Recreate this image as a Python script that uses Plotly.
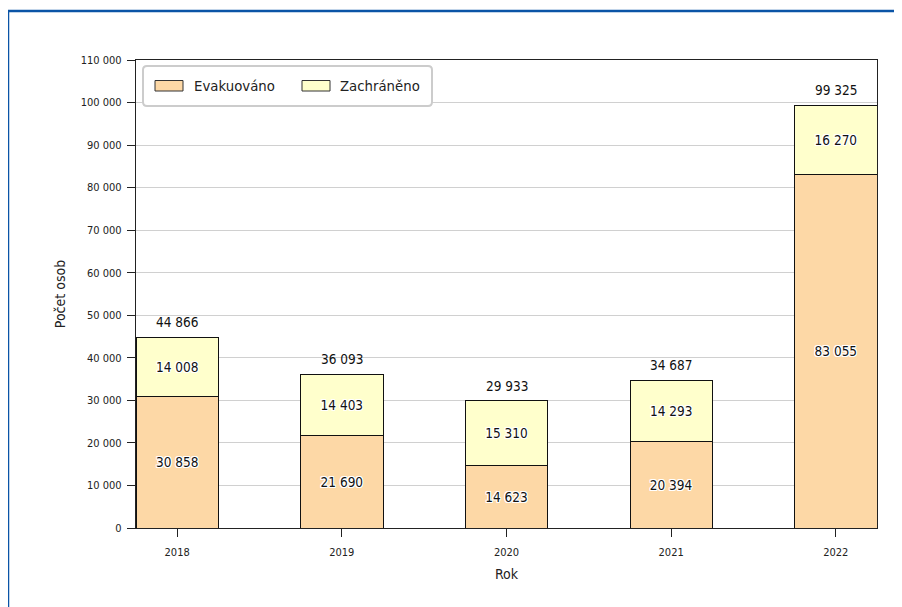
import plotly.graph_objects as go

years = ["2018", "2019", "2020", "2021", "2022"]
evakuovano = [30858, 21690, 14623, 20394, 83055]
zachraneno = [14008, 14403, 15310, 14293, 16270]
totals = [44866, 36093, 29933, 34687, 99325]
y_ticks = [0, 10000, 20000, 30000, 40000, 50000, 60000, 70000, 80000, 90000, 100000, 110000]
y_ticklabels = ["0", "10 000", "20 000", "30 000", "40 000", "50 000", "60 000",
                "70 000", "80 000", "90 000", "100 000", "110 000"]
series_names = ["Evakuováno", "Zachráněno"]
series_colors = ["#fdd8a6", "#ffffcc"]


def fmt(v):
    return f"{v:,}".replace(",", " ")


COND = "Liberation Sans Narrow, DejaVu Sans Condensed, Roboto, sans-serif"
halo = ("-1px -1px 0 #fff, 1px -1px 0 #fff, -1px 1px 0 #fff, 1px 1px 0 #fff, "
        "0 1px 0 #fff, 0 -1px 0 #fff, 1px 0 0 #fff, -1px 0 0 #fff")

# plot area in page pixels: x 136..877, y 60..528 ; page has 8px body offset
PX_L, PX_R, PX_T, PX_B = 136, 877, 60, 528
W_AX, H_AX = PX_R - PX_L, PX_B - PX_T


def px2paper(px, py):
    return (px - PX_L) / W_AX, (PX_B - py) / H_AX


fig = go.Figure()
for vals, name, col in [(evakuovano, series_names[0], series_colors[0]),
                        (zachraneno, series_names[1], series_colors[1])]:
    fig.add_trace(go.Bar(
        x=years, y=vals, name=name, width=0.5, showlegend=False,
        marker=dict(color=col, line=dict(color="#111111", width=1)),
        text=[fmt(v) for v in vals], textposition="inside",
        insidetextanchor="middle", textangle=0, constraintext="none",
        textfont=dict(family=COND, size=13.5, color="#111111", shadow=halo),
    ))

annotations = []
for i, tot in enumerate(totals):
    annotations.append(dict(
        x=i, y=tot, xref="x", yref="y", text=fmt(tot), showarrow=False,
        yanchor="bottom", yshift=5,
        font=dict(family=COND, size=13.5, color="#111111"),
    ))

# manual legend (matplotlib style)
shapes = []
bx0, by1 = px2paper(143, 66)
bx1, by0 = px2paper(432, 106)
rx, ry = 4 / W_AX, 4 / H_AX
path = (f"M {bx0+rx},{by1} L {bx1-rx},{by1} Q {bx1},{by1} {bx1},{by1-ry} "
        f"L {bx1},{by0+ry} Q {bx1},{by0} {bx1-rx},{by0} L {bx0+rx},{by0} "
        f"Q {bx0},{by0} {bx0},{by0+ry} L {bx0},{by1-ry} Q {bx0},{by1} {bx0+rx},{by1} Z")
shapes.append(dict(type="path", xref="paper", yref="paper", path=path,
                   fillcolor="white", line=dict(color="#cccccc", width=2), layer="above"))
swatch_x = [155, 302]
text_x = [192, 338]
for sx, tx, name, col in zip(swatch_x, text_x, series_names, series_colors):
    x0, y1 = px2paper(sx, 80.5)
    x1, y0 = px2paper(sx + 28, 91)
    shapes.append(dict(type="rect", xref="paper", yref="paper", x0=x0, x1=x1, y0=y0, y1=y1,
                       fillcolor=col, line=dict(color="#333333", width=1), layer="above"))
    ax, ay = px2paper(tx, 86)
    annotations.append(dict(x=ax, y=ay, xref="paper", yref="paper", text=name,
                            showarrow=False, xanchor="left", yanchor="middle",
                            font=dict(family="DejaVu Sans", size=13.3, color="#222222")))

# blue frame around the figure
shapes.append(dict(
    type="rect", xref="paper", yref="paper",
    x0=(8 - PX_L) / W_AX, x1=(912 - PX_L) / W_AX,
    y0=(PX_B - 620) / H_AX, y1=(PX_B - 11) / H_AX,
    line=dict(color="#0a54a6", width=2.5), fillcolor="rgba(0,0,0,0)", layer="above",
))

fig.update_layout(
    width=894, height=599,
    margin=dict(l=PX_L - 8, r=894 - (PX_R - 8), t=PX_T - 8, b=599 - (PX_B - 8)),
    barmode="stack",
    plot_bgcolor="white", paper_bgcolor="white",
    font=dict(family=COND, size=11, color="#222222"),
    showlegend=False,
    xaxis=dict(
        type="category", range=[-0.25, 4.25],
        showline=True, linecolor="#222222", linewidth=1.3, mirror=True,
        ticks="outside", ticklen=8, tickcolor="#222222", tickwidth=1.3,
        ticklabelstandoff=6,
        showgrid=False,
        title=dict(text="Rok", font=dict(family=COND, size=14, color="#222222"), standoff=10),
        tickfont=dict(family=COND, size=11, color="#222222"),
    ),
    yaxis=dict(
        range=[0, 110000], tickvals=y_ticks, ticktext=y_ticklabels,
        showline=True, linecolor="#222222", linewidth=1.3, mirror=True,
        ticks="outside", ticklen=8, tickcolor="#222222", tickwidth=1.3,
        ticklabelstandoff=3,
        showgrid=True, gridcolor="#d0d0d0", gridwidth=1,
        zeroline=False,
        title=dict(text="Počet osob", font=dict(family=COND, size=14, color="#222222"), standoff=11),
        tickfont=dict(family=COND, size=11, color="#222222"),
    ),
    shapes=shapes,
    annotations=annotations,
)

fig.write_html("out.html")
